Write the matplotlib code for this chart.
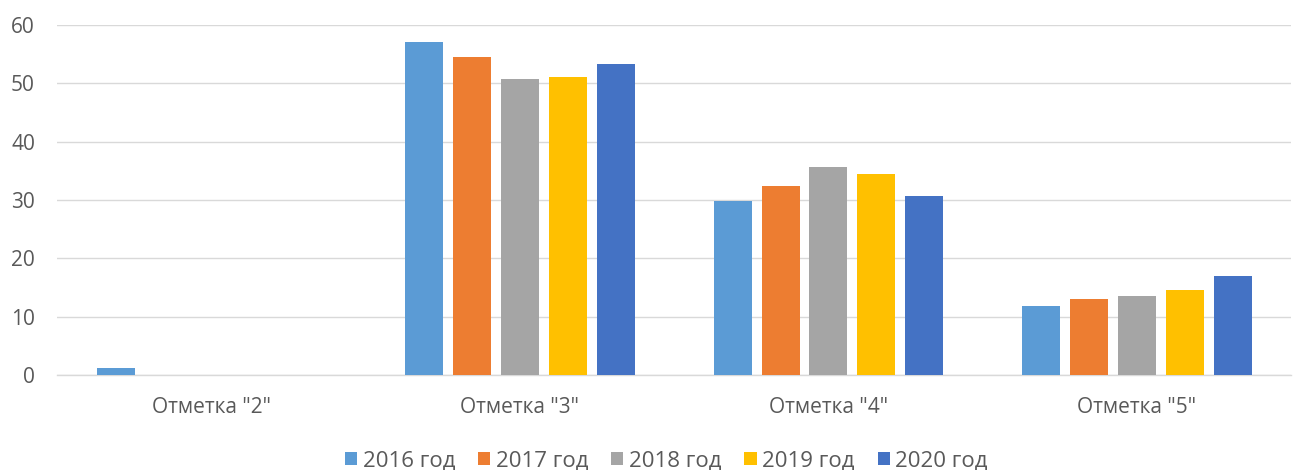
import matplotlib.pyplot as plt
import numpy as np

plt.rcParams['font.family'] = ['Open Sans', 'DejaVu Sans']

categories = ['Отметка "2"', 'Отметка "3"', 'Отметка "4"', 'Отметка "5"']
years = ['2016 год', '2017 год', '2018 год', '2019 год', '2020 год']
values = {
    '2016 год': [1.2, 57.0, 29.9, 11.9],
    '2017 год': [0, 54.5, 32.4, 13.0],
    '2018 год': [0, 50.7, 35.7, 13.6],
    '2019 год': [0, 51.1, 34.5, 14.5],
    '2020 год': [0, 53.3, 30.7, 16.9],
}
colors = ['#5B9BD5', '#ED7D31', '#A5A5A5', '#FFC000', '#4472C4']

fig = plt.figure(figsize=(12.99, 4.70), dpi=100)
ax = fig.add_axes([0.044, 0.202, 0.950, 0.745])

x = np.arange(len(categories))
width = 0.123
step = 0.155
for i, (yr, c) in enumerate(zip(years, colors)):
    ax.bar(x + (i - 2) * step, values[yr], width, color=c, label=yr, zorder=3)

ax.set_xlim(-0.5, len(categories) - 0.5)
ax.set_ylim(0, 60)
ax.set_yticks(range(0, 61, 10))
ax.set_xticks(x)
ax.set_xticklabels(categories)
ax.grid(axis='y', color='#D9D9D9', linewidth=1.0, zorder=0)
for s in ['top', 'right', 'left']:
    ax.spines[s].set_visible(False)
ax.spines['bottom'].set_color('#D9D9D9')
ax.spines['bottom'].set_linewidth(1.0)
ax.tick_params(axis='both', length=0, labelsize=15, colors='#595959')
ax.tick_params(axis='x', pad=16)
ax.tick_params(axis='y', pad=16)

fig.legend(loc='lower center', ncol=5, frameon=False, fontsize=16,
           bbox_to_anchor=(0.513, -0.045), handlelength=0.55, handleheight=0.55,
           columnspacing=1.03, handletextpad=0.25, labelcolor='#595959')

plt.savefig('out.png')
